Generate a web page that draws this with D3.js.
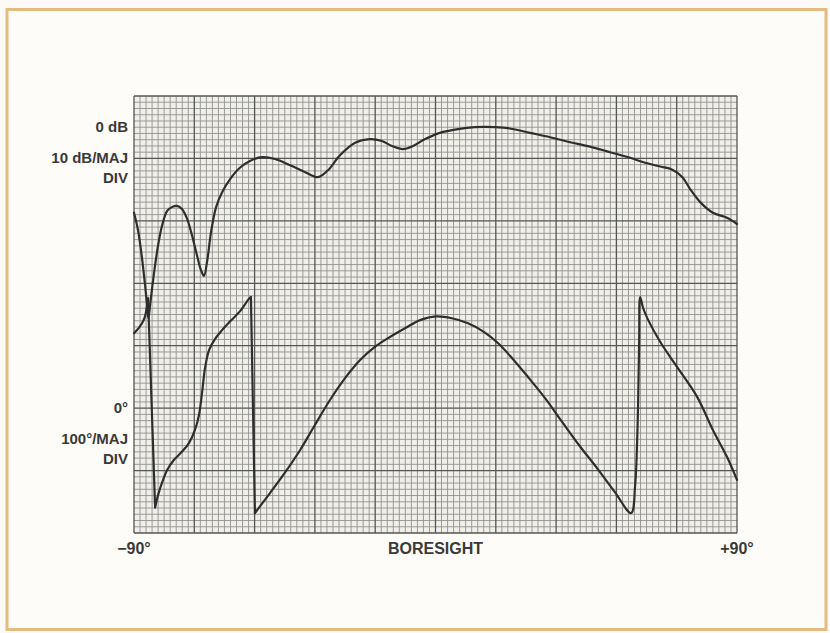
<!DOCTYPE html>
<html><head><meta charset="utf-8">
<script src="https://cdn.jsdelivr.net/npm/d3@7"></script>
<style>
html,body{margin:0;padding:0;background:#fbfaf6;}
svg{display:block;}
text{font-family:"Liberation Sans Narrow","Liberation Sans",Arial,sans-serif;font-weight:bold;fill:#3a3a3a;}
</style></head>
<body>
<script>
// Angle (degrees from boresight)
const magAngle = [-90,-88.8,-87.6,-86.7,-86.1,-85.7,-85.2,-84.6,-83.7,-82.8,-81.6,-80.1,-78.7,-77.2,-75.7,-74.2,-72.7,-71.2,-70.0,-69.1,-68.2,-67.0,-65.5,-63.7,-61.3,-58.4,-55.4,-51.8,-47.9,-43.4,-38.9,-35.1,-32.1,-28.5,-24.0,-19.6,-16.0,-13.0,-9.7,-6.7,-3.1,1.3,6.7,11.8,17.8,22.2,28.2,34.2,40.2,46.1,52.1,58.1,62.6,67.1,70.7,73.7,76.0,79.0,82.8,87.0,90];
// Magnitude (dB)
const magDb = [-13.7,-16.5,-21.0,-25.3,-28.5,-30.6,-28.5,-25.8,-22.1,-18.9,-15.7,-13.4,-12.8,-12.6,-13.1,-14.6,-17.3,-20.5,-22.9,-23.8,-21.6,-16.8,-12.8,-10.4,-8.3,-6.5,-5.4,-4.8,-5.1,-6.1,-7.2,-8.0,-6.9,-4.5,-2.5,-1.9,-2.2,-3.0,-3.5,-3.0,-1.9,-0.9,-0.3,0.0,0.0,-0.2,-0.9,-1.6,-2.4,-3.1,-4.0,-4.9,-5.7,-6.3,-6.8,-8.0,-9.9,-12.0,-13.7,-14.5,-15.5];
const phAngle = [-90,-88.8,-87.6,-86.7,-86.1,-85.8,
  -83.7,-82.8,-81.6,-80.1,-78.1,-75.7,-73.6,-71.8,-70.6,-69.7,-68.8,-67.6,-65.8,-63.7,-61.3,-58.4,-55.7,-55.1,
  -53.9,-49.4,-44.9,-40.4,-36.0,-31.5,-27.0,-22.5,-18.1,-13.6,-9.1,-4.6,0.2,4.9,9.7,14.2,18.7,23.2,27.6,32.7,37.8,43.1,48.5,53.6,58.4,
  59.6,60.2,60.5,60.8,61.1,62.0,63.5,67.1,72.1,78.1,82.8,87.0,90];
// Phase (degrees, wrapped)
const phDeg = [120,127,136,147,165,176,
  -159,-139,-119,-99,-83,-70,-56,-35,-11,24,64,93,111,125,139,155,175,178,
  -168,-136,-103,-67,-27,13,48,77,98,114,128,141,147,144,136,123,104,78,50,16,-22,-61,-98,-135,-168,
  -123,-51,13,109,178,160,141,106,66,18,-35,-78,-115];

const xTickLabels = ["\u221290\u00b0","BORESIGHT","+90\u00b0"];
const xTickValues = [-90,0,90];
const magLabels = ["0 dB","10 dB/MAJ","DIV"];
const phLabels = ["0\u00b0","100\u00b0/MAJ","DIV"];

const W=830,H=633;
const pL=134,pR=737,pT=96,pB=533;
const svg=d3.select("body").append("svg").attr("width",W).attr("height",H);

svg.append("rect").attr("x",0).attr("y",0).attr("width",W).attr("height",H).attr("fill","#fbfaf6");
svg.append("rect").attr("x",7).attr("y",9.5).attr("width",819).attr("height",620)
  .attr("fill","#fdfcf8").attr("stroke","#e3bc82").attr("stroke-width",3);

const x=d3.scaleLinear().domain([-90,90]).range([pL,pR]);
const yMag=d3.scaleLinear().domain([5,-65]).range([pT,pB]);
const yPh=d3.scaleLinear().domain([500,-200]).range([pT,pB]);

// graph paper
const gx=d3.scaleLinear().domain([0,100]).range([pL,pR]);
const gy=d3.scaleLinear().domain([0,70]).range([pT,pB]);
const grid=svg.append("g");
grid.append("rect").attr("x",pL).attr("y",pT).attr("width",pR-pL).attr("height",pB-pT).attr("fill","#f0efea");
grid.selectAll("line.vm").data(d3.range(0,101).filter(i=>i%10)).join("line")
  .attr("x1",d=>gx(d)).attr("x2",d=>gx(d)).attr("y1",pT).attr("y2",pB)
  .attr("stroke","#929290").attr("stroke-width",0.9);
grid.selectAll("line.hm").data(d3.range(0,71).filter(i=>i%10)).join("line")
  .attr("y1",d=>gy(d)).attr("y2",d=>gy(d)).attr("x1",pL).attr("x2",pR)
  .attr("stroke","#929290").attr("stroke-width",0.9);
const g2=svg.append("g");
g2.selectAll("line").data(d3.range(0,101,10)).join("line")
  .attr("x1",d=>gx(d)).attr("x2",d=>gx(d)).attr("y1",pT).attr("y2",pB)
  .attr("stroke","#555").attr("stroke-width",1.3);
const g3=svg.append("g");
g3.selectAll("line").data(d3.range(0,71,10)).join("line")
  .attr("y1",d=>gy(d)).attr("y2",d=>gy(d)).attr("x1",pL).attr("x2",pR)
  .attr("stroke","#555").attr("stroke-width",1.3);

// curves
const mag=magAngle.map((a,i)=>[a,magDb[i]]);
const ph=phAngle.map((a,i)=>[a,phDeg[i]]);
const ink="#2e2e2e";
const smooth=d3.curveCatmullRom.alpha(0.5);
svg.append("path").datum(mag).attr("fill","none").attr("stroke",ink).attr("stroke-width",2.2)
  .attr("stroke-linejoin","round").attr("stroke-linecap","round")
  .attr("d",d3.line().x(d=>x(d[0])).y(d=>yMag(d[1])).curve(smooth));

// split phase at the wrap jumps; jumps drawn as straight pen strokes
const segs=[];let cur=[ph[0]];const jumps=[];
for(let i=1;i<ph.length;i++){
  if(Math.abs(ph[i][1]-ph[i-1][1])>150){
    segs.push(cur);jumps.push([ph[i-1],ph[i]]);cur=[ph[i]];
  } else cur.push(ph[i]);
}
segs.push(cur);
const phLine=d3.line().x(d=>x(d[0])).y(d=>yPh(d[1]));
svg.selectAll("path.ph").data(segs).join("path").attr("class","ph")
  .attr("fill","none").attr("stroke",ink).attr("stroke-width",2.2)
  .attr("stroke-linejoin","round").attr("stroke-linecap","round")
  .attr("d",d=>phLine.curve(smooth)(d));
svg.selectAll("path.jp").data(jumps).join("path").attr("class","jp")
  .attr("fill","none").attr("stroke",ink).attr("stroke-width",2.2).attr("stroke-linecap","round")
  .attr("d",d=>d3.line().x(p=>x(p[0])).y(p=>yPh(p[1])).curve(d3.curveLinear)(d));

// labels
const fs=15;
svg.append("text").attr("x",128).attr("y",yMag(0)+5).attr("text-anchor","end").attr("font-size",fs).text(magLabels[0]);
svg.append("text").attr("x",128).attr("y",yMag(-5)+5).attr("text-anchor","end").attr("font-size",fs).text(magLabels[1]);
svg.append("text").attr("x",128).attr("y",yMag(-5)+25).attr("text-anchor","end").attr("font-size",fs).text(magLabels[2]);
svg.append("text").attr("x",128).attr("y",yPh(0)+5).attr("text-anchor","end").attr("font-size",fs).text(phLabels[0]);
svg.append("text").attr("x",128).attr("y",yPh(-50)+5).attr("text-anchor","end").attr("font-size",fs).text(phLabels[1]);
svg.append("text").attr("x",128).attr("y",yPh(-50)+25).attr("text-anchor","end").attr("font-size",fs).text(phLabels[2]);

const xa=svg.append("g");
xa.selectAll("text").data(xTickValues).join("text")
  .attr("x",d=>x(d)).attr("y",554).attr("text-anchor","middle").attr("font-size",16)
  .text((d,i)=>xTickLabels[i]);
</script>
</body></html>
